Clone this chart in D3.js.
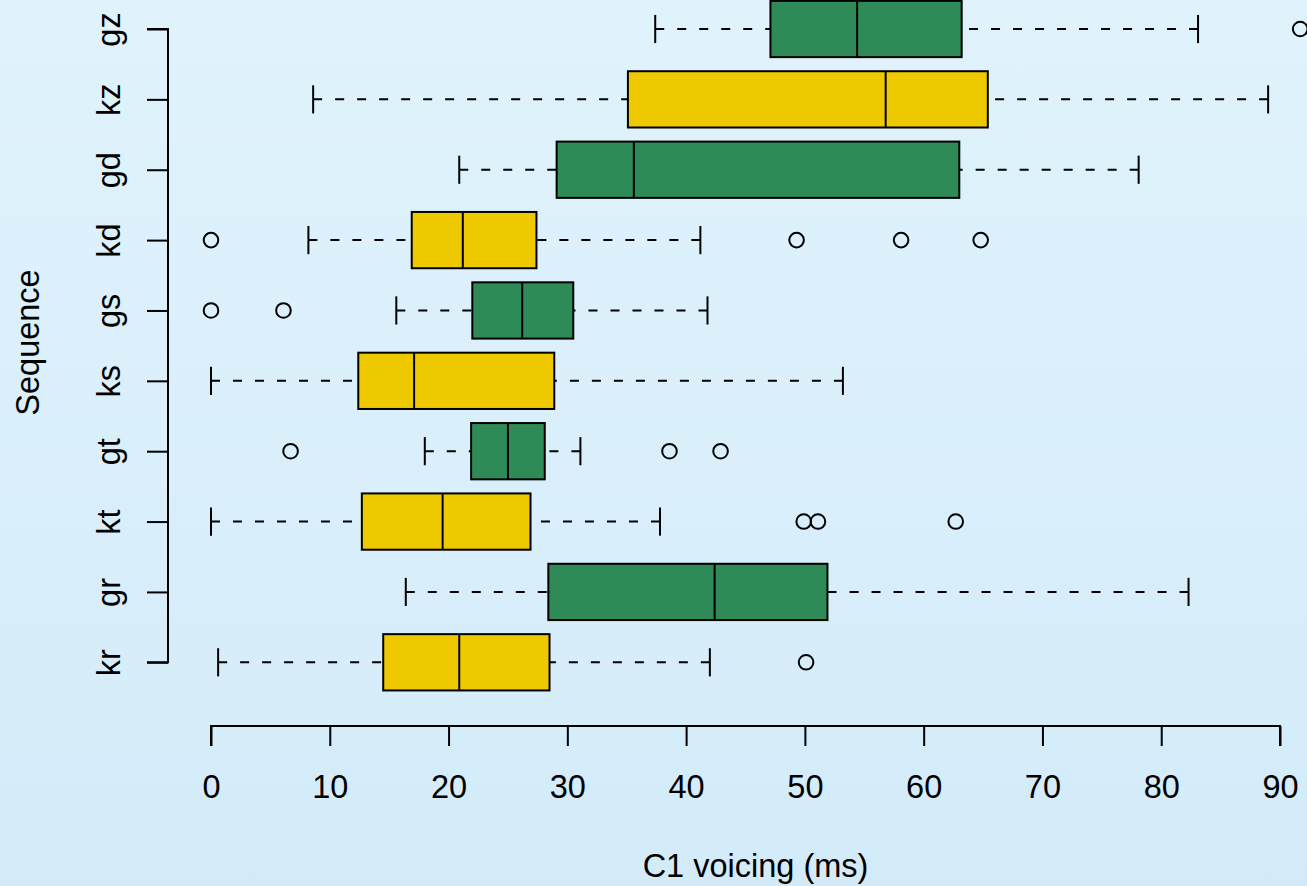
<!DOCTYPE html>
<html>
<head>
<meta charset="utf-8">
<script src="https://cdn.jsdelivr.net/npm/d3@7"></script>
<style>
  html, body { margin: 0; padding: 0; }
  body { width: 1307px; height: 886px; overflow: hidden; }
  svg text { font-family: "Liberation Sans", Arial, Helvetica, sans-serif; fill: #000; }
</style>
</head>
<body>
<svg id="chart" width="1307" height="886"></svg>
<script>
// ---- Data ----
const categories   = ["kr", "gr", "kt", "gt", "ks", "gs", "kd", "gd", "kz", "gz"];
const whiskerLow   = [0.6, 16.4, 0.0, 18.0, 0.0, 15.6, 8.2, 20.9, 8.6, 37.4];
const q1           = [14.5, 28.4, 12.7, 21.9, 12.4, 22.0, 16.9, 29.1, 35.1, 47.1];
const medians      = [20.9, 42.4, 19.5, 25.0, 17.1, 26.2, 21.2, 35.6, 56.8, 54.4];
const q3           = [28.5, 51.9, 26.9, 28.1, 28.9, 30.5, 27.4, 63.0, 65.4, 63.2];
const whiskerHigh  = [42.0, 82.3, 37.8, 31.1, 53.2, 41.8, 41.2, 78.1, 89.0, 83.1];
const outliers     = [[50.1], [], [49.9, 51.1, 62.7], [6.7, 38.6, 42.9], [], [0.0, 6.1], [0.0, 49.3, 58.1, 64.8], [], [], [91.7]];
const xTicks       = [0, 10, 20, 30, 40, 50, 60, 70, 80, 90];
const xTitle = "C1 voicing (ms)";
const yTitle = "Sequence";

const rows = categories.map((c, i) => ({
  cat: c, idx: i + 1, lo: whiskerLow[i], q1: q1[i], med: medians[i], q3: q3[i], hi: whiskerHigh[i], out: outliers[i]
}));

// ---- Layout ----
const svg = d3.select("#chart");
const W = 1307, H = 886;
const fill = { k: "#EEC900", g: "#2E8B57" };

const defs = svg.append("defs");
const grad = defs.append("linearGradient").attr("id", "bg").attr("x1", 0).attr("y1", 0).attr("x2", 0).attr("y2", 1);
grad.append("stop").attr("offset", "0%").attr("stop-color", "#e0f3fc");
grad.append("stop").attr("offset", "100%").attr("stop-color", "#d3ebf9");
svg.append("rect").attr("width", W).attr("height", H).attr("fill", "url(#bg)");

const x = d3.scaleLinear().domain([0, 90]).range([211, 1280]);
const y = d3.scaleLinear().domain([1, 10]).range([662.3, 29]);
const step = Math.abs(y(2) - y(1));
const halfBox = step * 0.4;
const halfCap = halfBox * 0.5;
const fontSize = 32.5;
const fontFam = '"Liberation Sans", Arial, Helvetica, sans-serif';

// ---- Axes ----
const xAxisY = 726;
const xAxis = d3.axisBottom(x).tickValues(xTicks).tickSize(20).tickPadding(0).tickFormat(d3.format("d"));
const gx = svg.append("g").attr("transform", `translate(0,${xAxisY})`).call(xAxis);
gx.select(".domain").attr("d", `M${x(0)},20V0H${x(90)}V20`).attr("stroke", "#000").attr("stroke-width", 2).attr("fill", "none");
gx.selectAll(".tick line").attr("stroke", "#000").attr("stroke-width", 2);
gx.selectAll(".tick text").attr("font-size", fontSize).attr("dy", null).attr("y", 72)
  .attr("font-family", fontFam);

const yAxisX = 168;
const yAxis = d3.axisLeft(y).tickValues(rows.map(r => r.idx)).tickSize(21).tickFormat(i => categories[i - 1]);
const gy = svg.append("g").attr("transform", `translate(${yAxisX},0)`).call(yAxis);
gy.select(".domain").attr("d", `M-21,${y(10)}H0V${y(1)}H-21`).attr("stroke", "#000").attr("stroke-width", 2).attr("fill", "none");
gy.selectAll(".tick line").attr("stroke", "#000").attr("stroke-width", 2);
gy.selectAll(".tick text")
  .attr("font-size", fontSize)
  .attr("font-family", fontFam)
  .attr("x", null).attr("dy", null)
  .attr("text-anchor", "middle")
  .attr("transform", "translate(-48,0) rotate(-90)");

// Titles
svg.append("text").attr("x", 755.5).attr("y", 877).attr("text-anchor", "middle")
  .attr("font-size", fontSize).text(xTitle);
svg.append("text").attr("transform", "translate(39,342.5) rotate(-90)").attr("text-anchor", "middle")
  .attr("font-size", fontSize).text(yTitle);

// ---- Boxplots ----
const g = svg.append("g");
const box = g.selectAll("g.box").data(rows).join("g").attr("class", "box");

// whiskers (dashed) from whisker end to box
box.append("line")
  .attr("x1", d => x(d.lo)).attr("x2", d => x(d.q1))
  .attr("y1", d => y(d.idx)).attr("y2", d => y(d.idx))
  .attr("stroke", "#000").attr("stroke-width", 2).attr("stroke-dasharray", "9,13");
box.append("line")
  .attr("x1", d => x(d.hi)).attr("x2", d => x(d.q3))
  .attr("y1", d => y(d.idx)).attr("y2", d => y(d.idx))
  .attr("stroke", "#000").attr("stroke-width", 2).attr("stroke-dasharray", "9,13");
// caps
box.append("line")
  .attr("x1", d => x(d.lo)).attr("x2", d => x(d.lo))
  .attr("y1", d => y(d.idx) - halfCap).attr("y2", d => y(d.idx) + halfCap)
  .attr("stroke", "#000").attr("stroke-width", 2);
box.append("line")
  .attr("x1", d => x(d.hi)).attr("x2", d => x(d.hi))
  .attr("y1", d => y(d.idx) - halfCap).attr("y2", d => y(d.idx) + halfCap)
  .attr("stroke", "#000").attr("stroke-width", 2);
// box
box.append("rect")
  .attr("x", d => x(d.q1)).attr("width", d => x(d.q3) - x(d.q1))
  .attr("y", d => y(d.idx) - halfBox).attr("height", halfBox * 2)
  .attr("fill", d => fill[d.cat[0]]).attr("stroke", "#000").attr("stroke-width", 2);
// median
box.append("line")
  .attr("x1", d => x(d.med)).attr("x2", d => x(d.med))
  .attr("y1", d => y(d.idx) - halfBox).attr("y2", d => y(d.idx) + halfBox)
  .attr("stroke", "#000").attr("stroke-width", 2);
// outliers
box.selectAll("circle").data(d => d.out.map(v => ({ v, idx: d.idx }))).join("circle")
  .attr("cx", o => x(o.v)).attr("cy", o => y(o.idx)).attr("r", 7.3)
  .attr("fill", "none").attr("stroke", "#000").attr("stroke-width", 2);
</script>
</body>
</html>
